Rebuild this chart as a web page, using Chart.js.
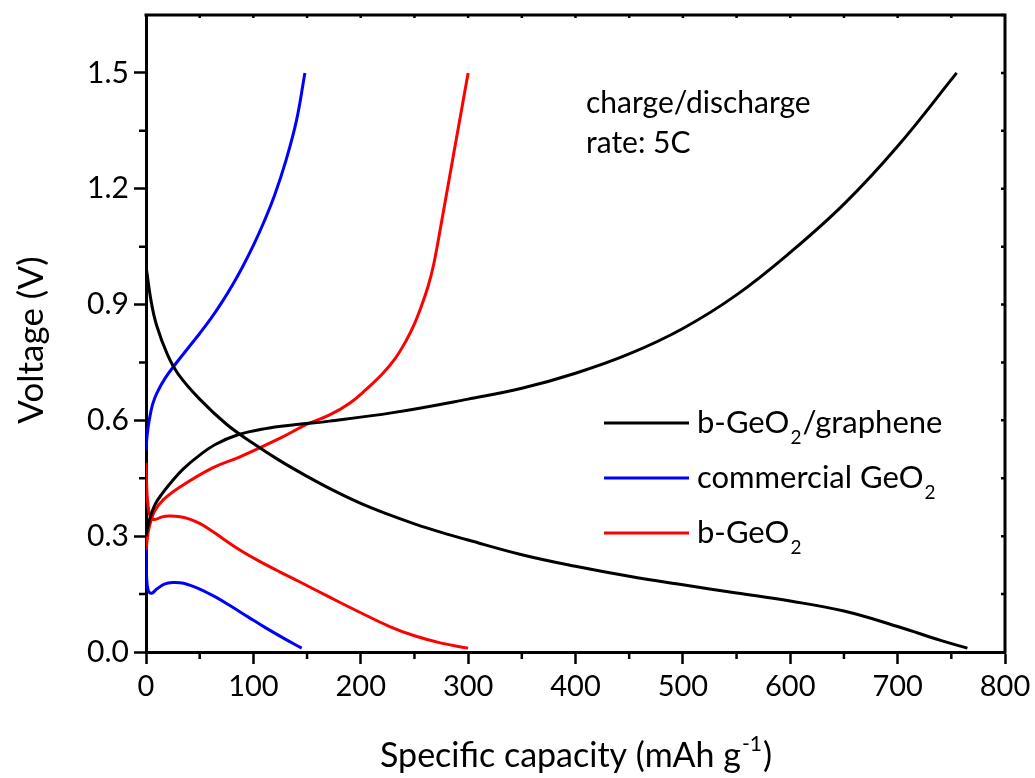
<!DOCTYPE html>
<html>
<head>
<meta charset="utf-8">
<script src="https://cdn.jsdelivr.net/npm/chart.js@4.4.0/dist/chart.umd.min.js"></script>
<style>
  html, body { margin: 0; padding: 0; background: #fff; }
  #wrap { width: 1035px; height: 778px; }
</style>
</head>
<body>
<div id="wrap"><canvas id="chart" width="1035" height="778"></canvas></div>
<script>
// values: capacity in mAh/g, voltage in V
const grCapCharge = [0, 3, 8, 15, 25, 35, 50, 65, 85, 110, 140, 171, 230, 300, 350, 400, 450, 500, 550, 600, 650, 700, 755];
const grVCharge = [0.30, 0.34, 0.38, 0.41, 0.445, 0.475, 0.51, 0.538, 0.562, 0.578, 0.589, 0.598, 0.62, 0.655, 0.683, 0.722, 0.772, 0.838, 0.925, 1.035, 1.16, 1.31, 1.5];
const grCapDis = [0, 5, 10, 20, 30, 50, 75, 100, 125, 150, 175, 200, 225, 250, 275, 300, 350, 400, 450, 500, 550, 600, 650, 700, 740, 765];
const grVDis = [1.0, 0.905, 0.845, 0.77, 0.72, 0.655, 0.59, 0.54, 0.495, 0.455, 0.418, 0.385, 0.357, 0.332, 0.31, 0.29, 0.252, 0.222, 0.196, 0.174, 0.153, 0.132, 0.106, 0.066, 0.03, 0.01];

const comCapCharge = [0, 1, 3, 6, 10, 18, 28, 40, 50, 60, 70, 80, 90, 100, 110, 120, 130, 140, 148];
const comVCharge = [0.523, 0.56, 0.6, 0.64, 0.67, 0.71, 0.748, 0.79, 0.825, 0.862, 0.903, 0.948, 0.998, 1.053, 1.115, 1.185, 1.27, 1.375, 1.5];
const comCapDis = [0, 0.5, 2, 5, 10, 17, 25, 35, 50, 65, 80, 95, 110, 128, 145];
const comVDis = [0.264, 0.2, 0.16, 0.152, 0.163, 0.176, 0.18, 0.178, 0.163, 0.142, 0.117, 0.091, 0.065, 0.036, 0.01];

const bCapCharge = [0, 2, 4, 8, 16, 32, 62, 87, 125, 150, 171, 190, 205, 220, 232, 242, 250, 257, 263, 268, 275, 283, 291, 300];
const bVCharge = [0.264, 0.31, 0.334, 0.365, 0.394, 0.428, 0.477, 0.505, 0.554, 0.59, 0.614, 0.645, 0.68, 0.72, 0.76, 0.805, 0.85, 0.9, 0.95, 1.005, 1.11, 1.235, 1.36, 1.5];
const bCapDis = [0, 0.5, 1.5, 4, 8, 15, 22, 30, 40, 50, 60, 72, 87, 105, 125, 143, 171, 199, 227, 250, 275, 300];
const bVDis = [0.49, 0.44, 0.39, 0.35, 0.343, 0.35, 0.352, 0.351, 0.345, 0.333, 0.316, 0.293, 0.265, 0.236, 0.207, 0.182, 0.142, 0.103, 0.066, 0.042, 0.023, 0.01];

const seriesNames = ["b-GeO2/graphene", "commercial GeO2", "b-GeO2"];
const seriesColors = ["#000000", "#0000ff", "#ff0000"];
const noteLines = ["charge/discharge", "rate: 5C"];
const xTitle = "Specific capacity (mAh g";
const yTitle = "Voltage (V)";

function pts(xs, ys) {
    return xs.map(function (x, i) { return {x: x, y: ys[i]}; });
}

function line(data, color) {
    return {
        data: data,
        borderColor: color,
        borderWidth: 3,
        pointRadius: 0,
        fill: false,
        tension: 0.4
    };
}

const FONT = "Lato";

// draws text where "GeO2" gets a subscript 2
function drawRich(ctx, text, x, y, size) {
    const parts = text.split("GeO2");
    ctx.textAlign = "left";
    ctx.textBaseline = "alphabetic";
    parts.forEach(function (p, i) {
        ctx.font = size + "px " + FONT;
        ctx.fillText(p, x, y);
        x += ctx.measureText(p).width;
        if (i < parts.length - 1) {
            ctx.fillText("GeO", x, y);
            x += ctx.measureText("GeO").width;
            ctx.font = Math.round(size * 0.62) + "px " + FONT;
            ctx.fillText("2", x + 1, y + 11);
            x += ctx.measureText("2").width + 2;
        }
    });
}

const decorPlugin = {
    id: "decor",
    afterDraw: function (chart) {
        const ctx = chart.ctx;
        const a = chart.chartArea;
        const xs = chart.scales.x, ys = chart.scales.y;
        ctx.save();
        ctx.strokeStyle = "#000";
        ctx.fillStyle = "#000";

        // top and right frame
        ctx.lineWidth = 3;
        ctx.beginPath();
        ctx.moveTo(a.left - 1.5, a.top);
        ctx.lineTo(a.right, a.top);
        ctx.lineTo(a.right, a.bottom + 1.5);
        ctx.stroke();

        // minor ticks outside, short ticks inside on top/right
        ctx.lineWidth = 2.5;
        ctx.beginPath();
        for (let v = 50; v < 800; v += 100) {
            const px = xs.getPixelForValue(v);
            ctx.moveTo(px, a.bottom);
            ctx.lineTo(px, a.bottom + 7);
        }
        for (let v = 0.15; v < 1.65; v += 0.3) {
            const py = ys.getPixelForValue(v);
            ctx.moveTo(a.left, py);
            ctx.lineTo(a.left - 7, py);
        }
        for (let v = 50; v < 800; v += 50) {
            const px = xs.getPixelForValue(v);
            ctx.moveTo(px, a.top);
            ctx.lineTo(px, a.top + 3);
        }
        for (let v = 0.15; v < 1.65; v += 0.15) {
            const py = ys.getPixelForValue(v);
            ctx.moveTo(a.right, py);
            ctx.lineTo(a.right - 4, py);
        }
        ctx.stroke();

        // legend
        seriesNames.forEach(function (name, i) {
            const y = 423 + i * 55;
            ctx.strokeStyle = seriesColors[i];
            ctx.lineWidth = 3;
            ctx.beginPath();
            ctx.moveTo(604, y);
            ctx.lineTo(689, y);
            ctx.stroke();
            drawRich(ctx, name, 697, y + 10, 31);
        });

        // note
        ctx.font = "30px " + FONT;
        ctx.textAlign = "left";
        ctx.textBaseline = "alphabetic";
        ctx.fillText(noteLines[0], 586, 113);
        ctx.fillText(noteLines[1], 586, 153);

        // x axis title with superscript
        ctx.font = "34px " + FONT;
        const w1 = ctx.measureText(xTitle).width;
        ctx.font = "21px " + FONT;
        const w2 = ctx.measureText("-1").width;
        ctx.font = "34px " + FONT;
        const w3 = ctx.measureText(")").width;
        let x0 = 575 - (w1 + w2 + w3) / 2;
        ctx.fillText(xTitle, x0, 767);
        ctx.font = "21px " + FONT;
        ctx.fillText("-1", x0 + w1 + 1, 751);
        ctx.font = "34px " + FONT;
        ctx.fillText(")", x0 + w1 + w2 + 2, 767);

        // y axis title
        ctx.translate(43, 340);
        ctx.rotate(-Math.PI / 2);
        ctx.textAlign = "center";
        ctx.font = "35px " + FONT;
        ctx.fillText(yTitle, 0, 0);
        ctx.restore();
    }
};

const ctx = document.getElementById("chart").getContext("2d");
const chart = new Chart(ctx, {
    type: "line",
    data: {
        datasets: [
            line(pts(grCapCharge, grVCharge), seriesColors[0]),
            line(pts(grCapDis, grVDis), seriesColors[0]),
            line(pts(comCapCharge, comVCharge), seriesColors[1]),
            line(pts(comCapDis, comVDis), seriesColors[1]),
            line(pts(bCapCharge, bVCharge), seriesColors[2]),
            line(pts(bCapDis, bVDis), seriesColors[2])
        ]
    },
    options: {
        responsive: false,
        animation: false,
        layout: {padding: {left: 0, top: 15, right: 30, bottom: 0}},
        plugins: {legend: {display: false}, tooltip: {enabled: false}},
        scales: {
            x: {
                type: "linear",
                min: 0,
                max: 800,
                ticks: {stepSize: 100, color: "#000", font: {family: FONT, size: 29}, padding: 5, maxRotation: 0},
                grid: {drawOnChartArea: false, tickLength: 12, tickWidth: 2.5, tickColor: "#000"},
                border: {color: "#000", width: 3},
                afterFit: function (s) { s.height = 126; s.paddingRight = 0; s.paddingLeft = 0; }
            },
            y: {
                type: "linear",
                min: 0,
                max: 1.65,
                ticks: {
                    stepSize: 0.3,
                    includeBounds: false,
                    color: "#000",
                    font: {family: FONT, size: 30},
                    padding: 5,
                    callback: function (v) { return v.toFixed(1); }
                },
                grid: {drawOnChartArea: false, tickLength: 12, tickWidth: 2.5, tickColor: "#000"},
                border: {color: "#000", width: 3},
                afterFit: function (s) { s.width = 146; s.paddingTop = 0; s.paddingBottom = 0; }
            }
        }
    },
    plugins: [decorPlugin]
});
</script>
</body>
</html>
